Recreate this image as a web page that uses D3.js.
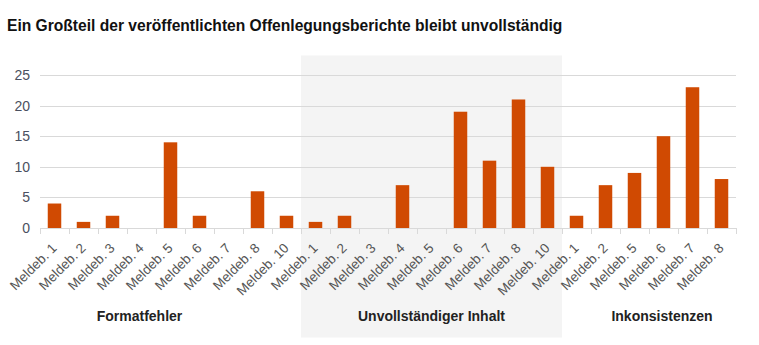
<!DOCTYPE html>
<html><head><meta charset="utf-8">
<script src="https://cdn.jsdelivr.net/npm/d3@7"></script>
<style>body{margin:0;background:#fff}svg{display:block;font-family:"Liberation Sans",Arial,sans-serif}</style>
</head><body><div id="chart"></div>
<script>
const title = "Ein Großteil der veröffentlichten Offenlegungsberichte bleibt unvollständig";
const groups = ["Formatfehler", "Unvollständiger Inhalt", "Inkonsistenzen"];
const formatCats = ["Meldeb. 1","Meldeb. 2","Meldeb. 3","Meldeb. 4","Meldeb. 5","Meldeb. 6","Meldeb. 7","Meldeb. 8","Meldeb. 10"];
const formatVals = [4, 1, 2, 0, 14, 2, 0, 6, 2];
const inhaltCats = ["Meldeb. 1","Meldeb. 2","Meldeb. 3","Meldeb. 4","Meldeb. 5","Meldeb. 6","Meldeb. 7","Meldeb. 8","Meldeb. 10"];
const inhaltVals = [1, 2, 0, 7, 0, 19, 11, 21, 10];
const inkonCats = ["Meldeb. 1","Meldeb. 2","Meldeb. 5","Meldeb. 6","Meldeb. 7","Meldeb. 8"];
const inkonVals = [2, 7, 9, 15, 23, 8];
const yTicks = [0, 5, 10, 15, 20, 25];

const W = 759, H = 345;
const M = {left: 40, right: 23};
const svg = d3.select("#chart").append("svg").attr("width", W).attr("height", H);

const rows = [];
[[formatCats, formatVals], [inhaltCats, inhaltVals], [inkonCats, inkonVals]].forEach(([cats, vals], gi) => {
  cats.forEach((c, i) => rows.push({key: gi + "|" + i, label: c, value: vals[i], group: gi}));
});

const x = d3.scaleBand().domain(rows.map(d => d.key)).range([M.left, W - M.right]).paddingInner(0).paddingOuter(0);
const y = d3.scaleLinear().domain([0, 25]).range([228, 75]);

const gExt = groups.map((g, gi) => {
  const ks = rows.filter(d => d.group === gi).map(d => d.key);
  return [x(ks[0]), x(ks[ks.length - 1]) + x.bandwidth()];
});

svg.append("rect").attr("x", gExt[1][0]).attr("y", 55.5)
  .attr("width", gExt[1][1] - gExt[1][0]).attr("height", 282)
  .attr("fill", "#f4f4f4");

svg.append("g").selectAll("line").data(yTicks.filter(t => t > 0)).join("line")
  .attr("x1", M.left).attr("x2", W - M.right)
  .attr("y1", d => Math.round(y(d)) + 0.5).attr("y2", d => Math.round(y(d)) + 0.5)
  .attr("stroke", "#d9d9d9").attr("stroke-width", 1);

svg.append("g").selectAll("text").data(yTicks).join("text")
  .attr("x", 30).attr("y", d => y(d) + 5)
  .attr("text-anchor", "end").attr("font-size", 14).attr("fill", "#4a5060")
  .text(d => d);

const bw = 13.5;
svg.append("g").selectAll("rect").data(rows.filter(d => d.value > 0)).join("rect")
  .attr("x", d => x(d.key) + x.bandwidth() / 2 - bw / 2)
  .attr("y", d => y(d.value))
  .attr("width", bw)
  .attr("height", d => y(0) - y(d.value))
  .attr("fill", "#d04a02");

svg.append("line").attr("x1", M.left).attr("x2", W - M.right)
  .attr("y1", 228.5).attr("y2", 228.5).attr("stroke", "#d9d9d9");
const tickPos = rows.map(d => x(d.key)).concat([W - M.right]);
svg.append("g").selectAll("line").data(tickPos).join("line")
  .attr("x1", d => Math.round(d) + 0.5).attr("x2", d => Math.round(d) + 0.5)
  .attr("y1", 228).attr("y2", 234).attr("stroke", "#d9d9d9");

svg.append("g").selectAll("text").data(rows).join("text")
  .attr("transform", d => `translate(${x(d.key) + x.bandwidth() / 2 + 3},${249}) rotate(-45)`)
  .attr("text-anchor", "end").attr("font-size", 13.5).attr("fill", "#555")
  .text(d => d.label);

const gLabelCenters = [
  (-22 + gExt[0][1]) / 2,
  (gExt[1][0] + gExt[1][1]) / 2,
  (gExt[2][0] + W + 3) / 2
];
svg.append("g").selectAll("text").data(groups).join("text")
  .attr("x", (d, i) => gLabelCenters[i]).attr("y", 321)
  .attr("text-anchor", "middle").attr("font-size", 14).attr("font-weight", "bold")
  .attr("fill", "#222").text(d => d);

svg.append("text").attr("x", 7).attr("y", 31).attr("font-size", 15.6).attr("font-weight", "bold")
  .attr("fill", "#111").text(title);
</script></body></html>
